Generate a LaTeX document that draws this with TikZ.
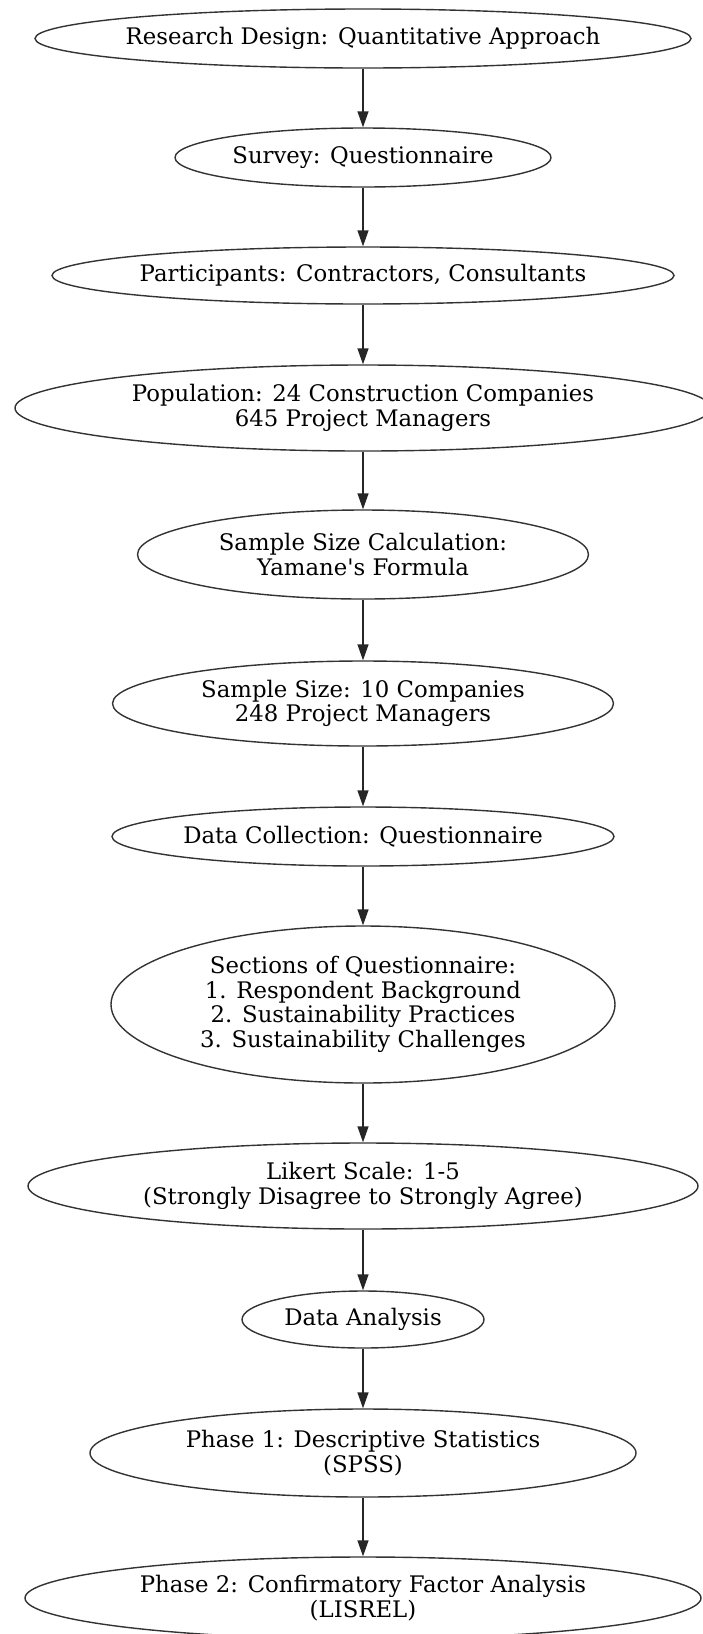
\documentclass[tikz,border=0pt]{standalone}
\usepackage{fontspec}
\newfontfamily\gvfont{DejaVu Serif}
\usetikzlibrary{shapes.geometric,arrows.meta}
\begin{document}
\begin{tikzpicture}[x=1pt,y=-1pt,
  conn/.style={draw=black!85, line width=1.4pt, -{Triangle[length=16pt,width=11pt]}},
  e/.style n args={3}{draw=black!80, line width=1.4pt, ellipse, inner sep=0pt,
    minimum width=2*#1, minimum height=2*#2,
    label={[align=center, font=\gvfont\fontsize{22.8}{24.5}\selectfont, inner sep=0pt]center:#3}}
]
\useasboundingbox (0,0) rectangle (703,1634);
\node[e={328}{29.5}{Research Design: Quantitative Approach}] (n1) at (363,38.5) {};
\node[e={188}{29.5}{Survey: Questionnaire}] (n2) at (363,157.5) {};
\node[e={311}{28.5}{Participants: Contractors, Consultants}] (n3) at (363,275.5) {};
\node[e={348}{43}{Population: 24 Construction Companies\\645 Project Managers}] (n4) at (363,408) {};
\node[e={225.5}{44.5}{Sample Size Calculation:\\Yamane's Formula}] (n5) at (363,554.5) {};
\node[e={250.5}{42.5}{Sample Size: 10 Companies\\248 Project Managers}] (n6) at (363,703.5) {};
\node[e={251}{29.5}{Data Collection: Questionnaire}] (n7) at (363,836.5) {};
\node[e={252}{78.5}{Sections of Questionnaire:\\1. Respondent Background\\2. Sustainability Practices\\3. Sustainability Challenges}] (n8) at (363,1004.5) {};
\node[e={335}{43}{Likert Scale: 1-5\\(Strongly Disagree to Strongly Agree)}] (n9) at (363,1186) {};
\node[e={121}{28.5}{Data Analysis}] (n10) at (363,1319.5) {};
\node[e={273}{44}{Phase 1: Descriptive Statistics\\(SPSS)}] (n11) at (363,1453) {};
\node[e={338}{41}{Phase 2: Confirmatory Factor Analysis\\(LISREL)}] (n12) at (363,1598) {};
\foreach \a/\b in {n1/n2,n2/n3,n3/n4,n4/n5,n5/n6,n6/n7,n7/n8,n8/n9,n9/n10,n10/n11,n11/n12}
  \draw[conn] (\a.south) -- (\b.north);
\end{tikzpicture}
\end{document}
